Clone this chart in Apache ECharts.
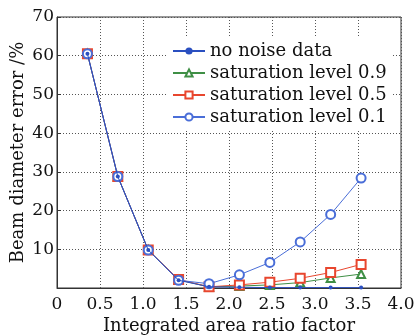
<!DOCTYPE html>
<html>
<head>
<meta charset="utf-8">
<script src="https://cdn.jsdelivr.net/npm/echarts@6/dist/echarts.min.js"></script>
<style>
html,body{margin:0;padding:0;background:#fff;}
#chart{width:417px;height:336px;}
</style>
</head>
<body>
<div id="chart"></div>
<script>
// Integrated area ratio factor (x) values
const ratioFactor = [0.354, 0.707, 1.061, 1.414, 1.768, 2.121, 2.475, 2.828, 3.182, 3.536];
// Beam diameter error (%) per noise case
const noNoise = [60.5, 28.8, 9.8, 2.0, 0.3, 0.2, 0.1, 0.1, 0.1, 0.1];
const sat09 = [60.5, 28.8, 9.8, 2.1, 0.3, 0.5, 0.8, 1.4, 2.6, 3.6];
const sat05 = [60.5, 28.8, 9.8, 2.2, 0.3, 0.8, 1.5, 2.5, 4.0, 6.1];
const sat01 = [60.5, 28.8, 9.8, 2.0, 1.1, 3.4, 6.6, 11.9, 19.0, 28.4];
// Axis ticks
const xTicks = [0, 0.5, 1.0, 1.5, 2.0, 2.5, 3.0, 3.5, 4.0];
const yTicks = [0, 10, 20, 30, 40, 50, 60, 70];
const seriesNames = ['no noise data', 'saturation level 0.9', 'saturation level 0.5', 'saturation level 0.1'];

const FONT = 'DejaVu Serif';
const BLUE = '#4a6ed8', GREEN = '#3f8f45', RED = '#e8462e';

const pairs = ys => ratioFactor.map((x, i) => [x, ys[i]]);

const chart = echarts.init(document.getElementById('chart'), null, {renderer: 'canvas'});
chart.setOption({
  animation: false,
  backgroundColor: '#fff',
  grid: {left: 57, right: 16, top: 17, bottom: 48, show: true, borderColor: '#333', borderWidth: 1,
    outerBoundsMode: 'none'},
  xAxis: {
    type: 'value', min: xTicks[0], max: xTicks[xTicks.length - 1], interval: 0.5,
    axisLine: {lineStyle: {color: '#333'}},
    axisTick: {show: false},
    axisLabel: {color: '#111', fontFamily: FONT, fontSize: 17, margin: 8,
      formatter: v => v === 0 ? '0' : v.toFixed(1)},
    splitLine: {show: true, lineStyle: {color: '#555', type: [1, 2], width: 1}},
    name: 'Integrated area ratio factor', nameLocation: 'middle', nameGap: 29, nameMoveOverlap: false,
    nameTextStyle: {color: '#111', fontFamily: FONT, fontSize: 18}
  },
  yAxis: {
    type: 'value', min: yTicks[0], max: yTicks[yTicks.length - 1], interval: 10,
    axisLine: {show: true, lineStyle: {color: '#333'}},
    axisTick: {show: true, inside: true, length: 4, lineStyle: {color: '#333'}},
    axisLabel: {color: '#111', fontFamily: FONT, fontSize: 17, margin: 3,
      formatter: v => v === 0 ? '' : String(v)},
    splitLine: {show: true, lineStyle: {color: '#555', type: [1, 2], width: 1}},
    name: 'Beam diameter error /%', nameLocation: 'middle', nameGap: 30, nameMoveOverlap: false,
    nameTextStyle: {color: '#111', fontFamily: FONT, fontSize: 18}
  },
  legend: {
    orient: 'vertical', left: 166, top: 38, itemWidth: 32, itemHeight: 9, itemGap: 4,
    padding: [4, 6, 4, 6], backgroundColor: '#fff',
    data: seriesNames,
    textStyle: {color: '#111', fontFamily: FONT, fontSize: 18}
  },
  series: [
    {name: seriesNames[1], type: 'line', data: pairs(sat09), symbol: 'emptyTriangle', symbolSize: 8,
      itemStyle: {color: GREEN}, lineStyle: {color: GREEN, width: 1}, z: 2},
    {name: seriesNames[2], type: 'line', data: pairs(sat05), symbol: 'emptyRect', symbolSize: 9,
      itemStyle: {color: RED}, lineStyle: {color: RED, width: 1}, z: 3},
    {name: seriesNames[3], type: 'line', data: pairs(sat01), symbol: 'emptyCircle', symbolSize: 9,
      itemStyle: {color: BLUE}, lineStyle: {color: BLUE, width: 1}, z: 4},
    {name: seriesNames[0], type: 'line', data: pairs(noNoise), symbol: 'circle', symbolSize: 4,
      itemStyle: {color: '#2a4fc0'}, lineStyle: {color: '#2a4fc0', width: 1}, z: 5}
  ]
});
</script>
</body>
</html>
